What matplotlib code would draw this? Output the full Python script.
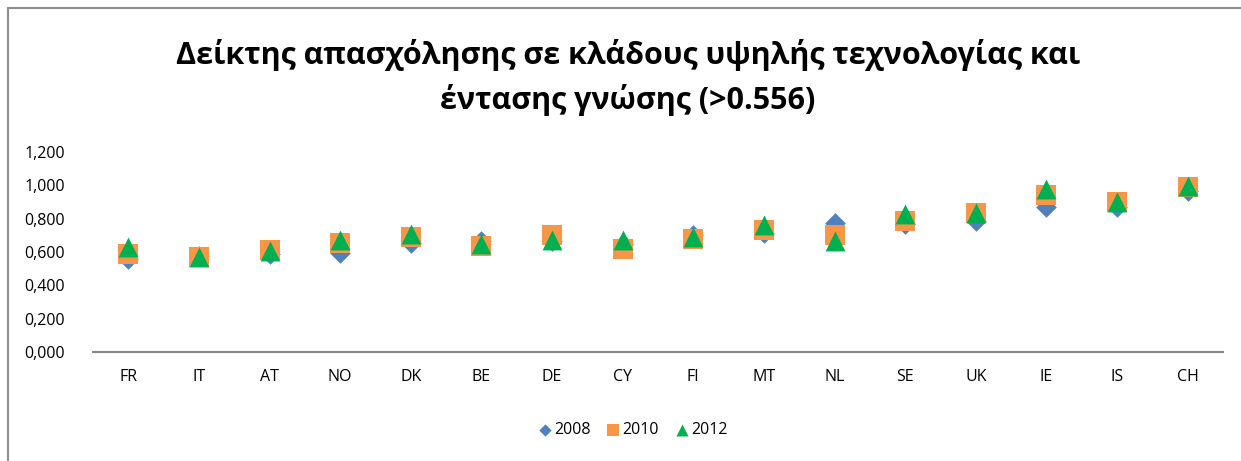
import matplotlib.pyplot as plt
from matplotlib.ticker import FuncFormatter
from matplotlib.patches import Rectangle

countries = ['FR', 'IT', 'AT', 'NO', 'DK', 'BE', 'DE', 'CY', 'FI', 'MT',
             'NL', 'SE', 'UK', 'IE', 'IS', 'CH']
v2008 = [0.560, 0.575, 0.587, 0.593, 0.654, 0.665, 0.665, 0.650, 0.700, 0.715,
         0.774, 0.770, 0.786, 0.870, 0.870, 0.964]
v2010 = [0.587, 0.570, 0.610, 0.657, 0.689, 0.638, 0.702, 0.618, 0.681, 0.735,
         0.700, 0.786, 0.834, 0.944, 0.902, 0.990]
v2012 = [0.630, 0.570, 0.605, 0.675, 0.707, 0.650, 0.675, 0.670, 0.690, 0.760,
         0.665, 0.826, 0.836, 0.980, 0.900, 0.994]

plt.rcParams['font.family'] = ['Open Sans', 'DejaVu Sans']

fig = plt.figure(figsize=(12.41, 4.61), dpi=100)
W, H = 1241, 461
ax = fig.add_axes([93 / W, 1 - 352 / H, 1130 / W, 200 / H])

x = range(len(countries))
ax.scatter(x, v2008, marker='D', s=110, color='#4f81bd', label='2008', zorder=3, linewidths=0)
ax.scatter(x, v2010, marker='s', s=205, color='#f79646', label='2010', zorder=4, linewidths=0)
ax.scatter(x, v2012, marker='^', s=205, color='#00b050', label='2012', zorder=5, linewidths=0)

ax.set_xlim(-0.5, len(countries) - 0.5)
ax.set_ylim(0, 1.2)
ax.set_xticks(list(x))
ax.set_xticklabels(countries, fontsize=11.5)
ax.set_yticks([0, 0.2, 0.4, 0.6, 0.8, 1.0, 1.2])
ax.yaxis.set_major_formatter(FuncFormatter(lambda v, p: f'{v:.3f}'.replace('.', ',')))
ax.tick_params(axis='y', length=0, labelsize=11.5, pad=20)
ax.tick_params(axis='x', length=0, pad=12)
for s in ['top', 'right', 'left']:
    ax.spines[s].set_visible(False)
ax.spines['bottom'].set_color('#868686')
ax.spines['bottom'].set_linewidth(1.5)

fig.text(628 / W, 1 - 55 / H, 'Δείκτης απασχόλησης σε κλάδους υψηλής τεχνολογίας και',
         ha='center', va='center', fontsize=22, fontweight='bold')
fig.text(628 / W, 1 - 100 / H, 'έντασης γνώσης (>0.556)',
         ha='center', va='center', fontsize=22, fontweight='bold')

leg = fig.legend(loc='center', bbox_to_anchor=(633 / W, 1 - 430 / H), ncol=3,
                 frameon=False, fontsize=11.5, handletextpad=0.2, columnspacing=1.0,
                 handlelength=0.8, markerscale=0.6)

fig.patches.append(Rectangle((8 / W, -0.1), 1.2, 1 - 8 / H + 0.1, transform=fig.transFigure,
                             fill=False, edgecolor='#8c8c8c', linewidth=1.5))

fig.savefig('out.png', dpi=100)
